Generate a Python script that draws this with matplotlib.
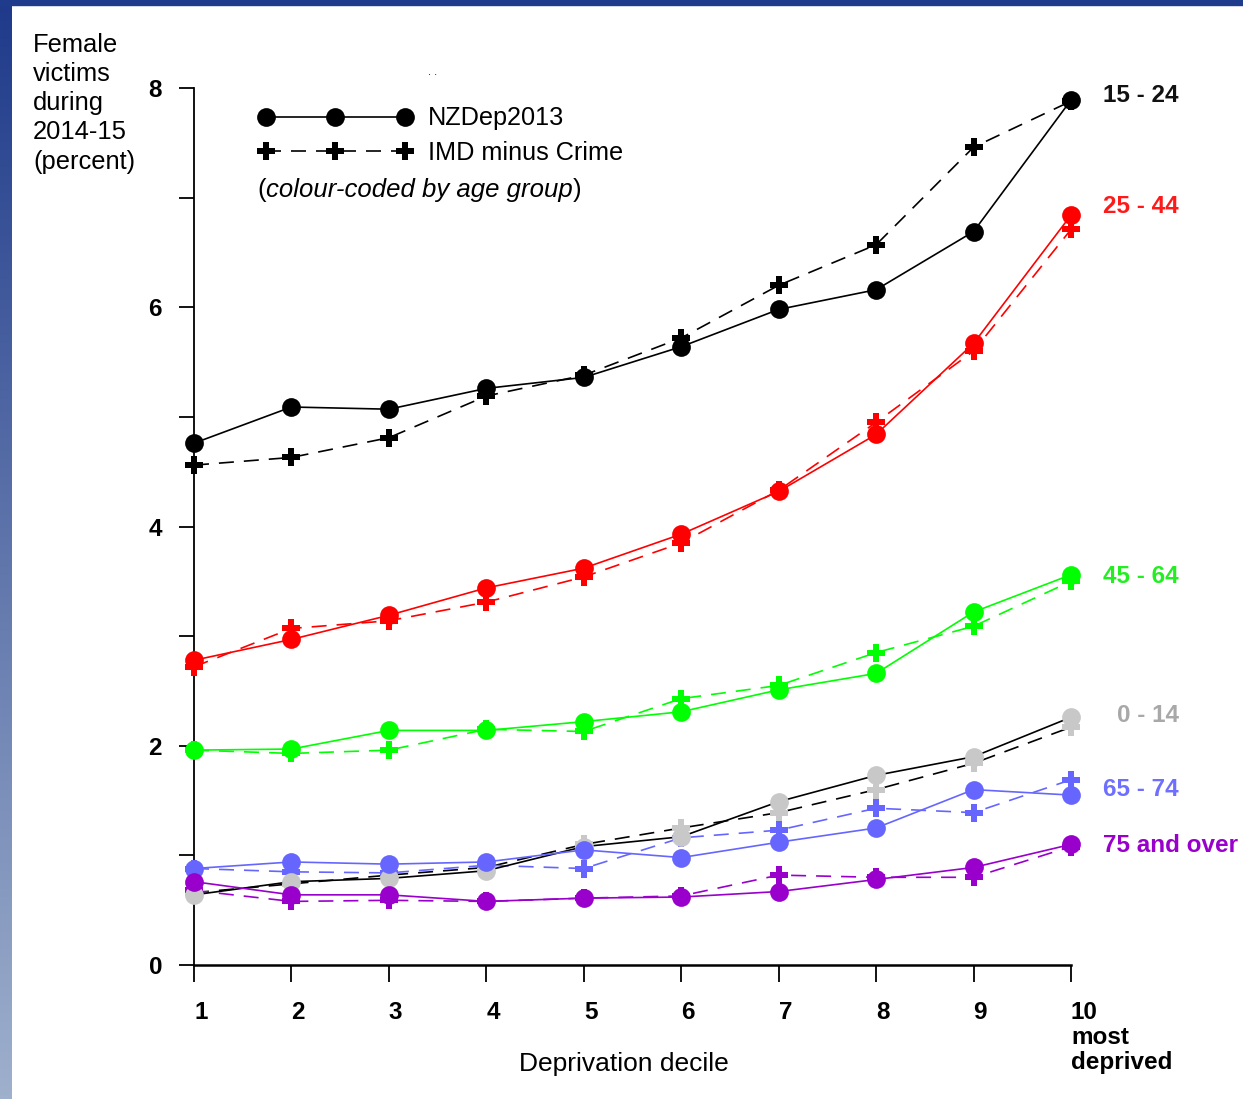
import numpy as np
import matplotlib
matplotlib.use("Agg")
import matplotlib.pyplot as plt
from matplotlib.lines import Line2D
from matplotlib.legend_handler import HandlerLine2D
from matplotlib.colors import LinearSegmentedColormap
from matplotlib.patches import Rectangle

plt.rcParams['font.family'] = ['Liberation Sans', 'DejaVu Sans']

deciles = [1, 2, 3, 4, 5, 6, 7, 8, 9, 10]
age_groups = ['15 - 24', '25 - 44', '45 - 64', '0 - 14', '65 - 74', '75 and over']

# NZDep2013 (solid, circles)
nz_15_24 = [4.76, 5.09, 5.07, 5.26, 5.36, 5.64, 5.98, 6.16, 6.69, 7.89]
nz_25_44 = [2.78, 2.97, 3.19, 3.44, 3.62, 3.93, 4.32, 4.84, 5.67, 6.84]
nz_45_64 = [1.96, 1.97, 2.14, 2.14, 2.22, 2.31, 2.51, 2.66, 3.22, 3.56]
nz_0_14 = [0.64, 0.76, 0.79, 0.86, 1.08, 1.17, 1.49, 1.73, 1.90, 2.26]
nz_65_74 = [0.88, 0.94, 0.92, 0.94, 1.05, 0.98, 1.12, 1.25, 1.60, 1.55]
nz_75_up = [0.76, 0.64, 0.64, 0.58, 0.61, 0.62, 0.67, 0.78, 0.89, 1.10]

# IMD minus Crime (dashed, plus)
imd_15_24 = [4.56, 4.63, 4.81, 5.19, 5.38, 5.72, 6.20, 6.57, 7.46, 7.88]
imd_25_44 = [2.72, 3.07, 3.14, 3.31, 3.54, 3.85, 4.33, 4.95, 5.60, 6.71]
imd_45_64 = [1.96, 1.93, 1.96, 2.15, 2.13, 2.43, 2.55, 2.85, 3.09, 3.50]
imd_0_14 = [0.66, 0.74, 0.82, 0.89, 1.10, 1.25, 1.39, 1.60, 1.84, 2.17]
imd_65_74 = [0.88, 0.85, 0.84, 0.91, 0.88, 1.16, 1.23, 1.43, 1.39, 1.69]
imd_75_up = [0.68, 0.58, 0.59, 0.58, 0.61, 0.63, 0.82, 0.80, 0.80, 1.08]

nz_series = [nz_15_24, nz_25_44, nz_45_64, nz_0_14, nz_65_74, nz_75_up]
imd_series = [imd_15_24, imd_25_44, imd_45_64, imd_0_14, imd_65_74, imd_75_up]

line_colors = ['black', '#ff0000', '#00ff00', 'black', '#6666ff', '#9900cc']
marker_colors = ['black', '#ff0000', '#00ff00', '#c8c8c8', '#6666ff', '#9900cc']
label_colors = ['#111111', '#ff1a1a', '#22ee22', '#a8a8a8', '#6f6fff', '#9900cc']
label_offsets = [(23, 3), (23, 6), (23, -1.5), (33, 1.5), (23, 4), (23, -0.7)]

fig = plt.figure(figsize=(12.43, 10.99), dpi=100)
fig.patch.set_facecolor('white')

# blue frame of the slide
strip = fig.add_axes([0, 0, 12 / 1243, 1])
grad = np.linspace(0, 1, 256).reshape(-1, 1)
cmap = LinearSegmentedColormap.from_list('slide', ['#1f3a8a', '#9eb0cc'])
strip.imshow(grad, aspect='auto', cmap=cmap)
strip.axis('off')
fig.patches.append(Rectangle((0, 1 - 5 / 1099), 1, 5 / 1099, color='#1f3b8c',
                             transform=fig.transFigure, zorder=5))

ax = fig.add_axes([194 / 1243, 1 - 965 / 1099, 877 / 1243, 877 / 1099])

for i in range(len(age_groups)):
    ax.plot(deciles, imd_series[i], color=line_colors[i], lw=1.2, dashes=(9, 6),
            marker='P', ms=13, mfc=marker_colors[i], mec=marker_colors[i],
            mew=0, clip_on=False, zorder=3)
    ax.plot(deciles, nz_series[i], color=line_colors[i], lw=1.2,
            marker='o', ms=13.5, mfc=marker_colors[i], mec=marker_colors[i],
            mew=0, clip_on=False, zorder=4)
    ax.annotate(age_groups[i], xy=(deciles[-1], nz_series[i][-1]),
                xytext=label_offsets[i], textcoords='offset points',
                ha='left', va='center', fontsize=17.5, fontweight='bold',
                color=label_colors[i], annotation_clip=False)

ax.set_xlim(1, 10)
ax.set_ylim(0, 8)
for s in ['top', 'right']:
    ax.spines[s].set_visible(False)
ax.spines['left'].set_bounds(0, 8)
ax.spines['bottom'].set_bounds(1, 10)
ax.spines['left'].set_linewidth(1.3)
ax.spines['bottom'].set_linewidth(1.8)

ax.set_yticks(range(9))
ax.set_yticklabels([str(v) if v % 2 == 0 else '' for v in range(9)],
                   fontsize=17.5, fontweight='bold')
ax.set_xticks(deciles)
ax.set_xticklabels([str(d) for d in deciles], fontsize=17.5, fontweight='bold',
                   ha='left')
ax.tick_params(axis='y', direction='out', length=11, width=1.3, pad=12)
ax.tick_params(axis='x', direction='out', length=12, width=1.3, pad=14)

ax.annotate('most\ndeprived', xy=(10, 0), xytext=(0, -44), textcoords='offset points',
            ha='left', va='top', fontsize=17.5, fontweight='bold', linespacing=1.12,
            annotation_clip=False)
ax.set_xlabel('Deprivation decile', fontsize=19, labelpad=20, x=0.49)

fig.text(33 / 1243, 1 - 33 / 1099, 'Female\nvictims\nduring\n2014-15\n(percent)',
         ha='left', va='top', fontsize=18.4, linespacing=1.27)

# legend
handles = [Line2D([], [], color='black', lw=1.2, marker='o', ms=13.5, mew=0),
           Line2D([], [], color='black', lw=1.2, dashes=(9, 6), marker='P', ms=13, mew=0)]
hm = {h: HandlerLine2D(marker_pad=0, numpoints=3) for h in handles}
ax.legend(handles, ['NZDep2013', 'IMD minus Crime'], handler_map=hm,
          loc='upper left', bbox_to_anchor=(0.082, 0.979), frameon=False,
          fontsize=18.2, handlelength=5.5, handletextpad=0.9, labelspacing=0.42,
          borderpad=0, borderaxespad=0)

t1 = ax.text(0.072, 0.884, '(', transform=ax.transAxes, fontsize=18.5,
             ha='left', va='center')
t2 = ax.annotate('colour-coded by age group', xy=(1, 0), xycoords=t1,
                 ha='left', va='bottom', fontsize=18.5, fontstyle='italic')
ax.annotate(')', xy=(1, 0), xycoords=t2, ha='left', va='bottom', fontsize=18.5)
ax.text(0.267, 1.015, '. .', transform=ax.transAxes, fontsize=8, ha='left')

fig.savefig('out.png', dpi=100)
